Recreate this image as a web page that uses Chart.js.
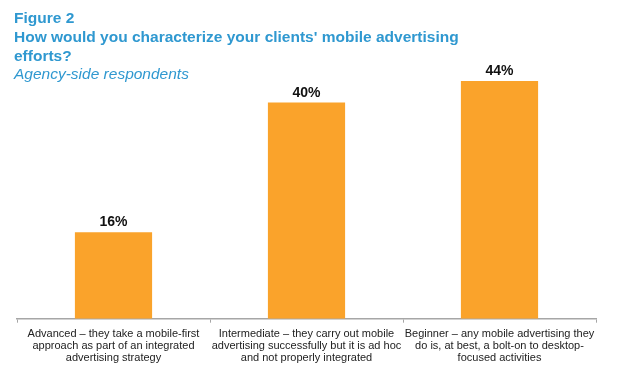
<!DOCTYPE html>
<html>
<head>
<meta charset="utf-8">
<script src="https://cdn.jsdelivr.net/npm/chart.js@4"></script>
<style>
  html, body { margin: 0; padding: 0; background: #fff; }
  #wrap { position: relative; width: 634px; height: 381px; overflow: hidden; }
  #chart { position: absolute; left: 0; top: 0; }
  .t { position: absolute; left: 14px; color: #2F98D0; font-family: "Liberation Sans", Arial, sans-serif; white-space: nowrap; }
  .b { font-weight: bold; font-size: 15.5px; }
  .i { font-style: italic; font-size: 15.5px; }
</style>
</head>
<body>
<div id="wrap">
  <canvas id="chart" width="634" height="381"></canvas>
  <div class="t b" style="top:9px;">Figure 2</div>
  <div class="t b" style="top:28px;">How would you characterize your clients' mobile advertising</div>
  <div class="t b" style="top:47px;">efforts?</div>
  <div class="t i" style="top:65px;">Agency-side respondents</div>
</div>
<script>
const categories = [
  ["Advanced \u2013 they take a mobile-first", "approach as part of an integrated", "advertising strategy"],
  ["Intermediate \u2013 they carry out mobile", "advertising successfully but it is ad hoc", "and not properly integrated"],
  ["Beginner \u2013 any mobile advertising they", "do is, at best, a bolt-on to desktop-", "focused activities"]
];
const values = [16, 40, 44];
const valueLabels = ["16%", "40%", "44%"];

const labelPlugin = {
  id: 'valueLabels',
  afterDatasetsDraw(chart) {
    const ctx = chart.ctx;
    const meta = chart.getDatasetMeta(0);
    ctx.save();
    ctx.font = 'bold 14px "Liberation Sans", Arial, sans-serif';
    ctx.fillStyle = '#111';
    ctx.textAlign = 'center';
    ctx.textBaseline = 'alphabetic';
    meta.data.forEach((bar, i) => {
      ctx.fillText(valueLabels[i], bar.x, bar.y - 6);
    });
    ctx.restore();
  }
};

new Chart(document.getElementById('chart'), {
  type: 'bar',
  data: {
    labels: categories,
    datasets: [{
      data: values,
      backgroundColor: '#FAA32B',
      borderWidth: 0,
      categoryPercentage: 1.0,
      barPercentage: 0.4
    }]
  },
  options: {
    responsive: false,
    animation: false,
    layout: { padding: { left: 17, right: 38, top: 21.5, bottom: 12 } },
    plugins: { legend: { display: false }, tooltip: { enabled: false }, title: { display: false } },
    scales: {
      y: { display: false, min: 0, max: 55 },
      x: {
        grid: { display: true, drawOnChartArea: false, drawTicks: true, tickLength: 4, color: '#A6A6A6', lineWidth: 1 },
        border: { display: true, color: '#A6A6A6', width: 1.5 },
        ticks: {
          autoSkip: false, maxRotation: 0, minRotation: 0, padding: 5,
          color: '#222',
          font: { family: '"Liberation Sans", Arial, sans-serif', size: 11, lineHeight: 1.1 }
        }
      }
    }
  },
  plugins: [labelPlugin]
});
</script>
</body>
</html>
